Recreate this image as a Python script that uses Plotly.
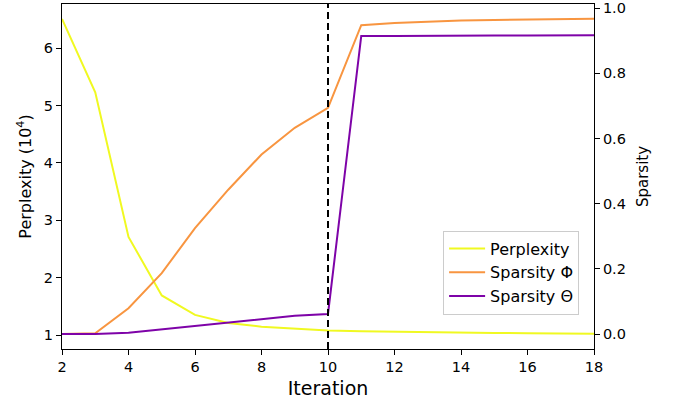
import plotly.graph_objects as go

iterations = [2, 3, 4, 5, 6, 7, 8, 9, 10, 11, 12, 13, 14, 15, 16, 17, 18]
perplexity = [6.51, 5.23, 2.71, 1.69, 1.35, 1.21, 1.145, 1.11, 1.08, 1.065, 1.055, 1.048, 1.042, 1.037, 1.032, 1.027, 1.022]
sparsity_phi = [0.0, 0.002, 0.079, 0.187, 0.325, 0.443, 0.551, 0.633, 0.694, 0.948, 0.955, 0.959, 0.962, 0.964, 0.966, 0.967, 0.968]
sparsity_theta = [0.0, 0.0, 0.004, 0.014, 0.026, 0.036, 0.046, 0.056, 0.0615, 0.915, 0.915, 0.916, 0.916, 0.916, 0.916, 0.917, 0.917]
split_iteration = 10
x_ticks = [2, 4, 6, 8, 10, 12, 14, 16, 18]
y1_ticks = [1, 2, 3, 4, 5, 6]
y2_ticks = [0.0, 0.2, 0.4, 0.6, 0.8, 1.0]

FONT = "DejaVu Sans"
c_perp = "#f0f921"
c_phi = "#f89540"
c_theta = "#7e03a8"

fig = go.Figure()
fig.add_trace(go.Scatter(x=iterations, y=perplexity, mode="lines", name="Perplexity",
                         line=dict(color=c_perp, width=2), yaxis="y"))
fig.add_trace(go.Scatter(x=iterations, y=sparsity_phi, mode="lines", name="Sparsity Φ",
                         line=dict(color=c_phi, width=2), yaxis="y2"))
fig.add_trace(go.Scatter(x=iterations, y=sparsity_theta, mode="lines", name="Sparsity Θ",
                         line=dict(color=c_theta, width=2), yaxis="y2"))

fig.add_shape(type="line", xref="x", yref="paper", x0=split_iteration, x1=split_iteration,
              y0=0, y1=1, line=dict(color="black", width=2, dash="7px,4px"), layer="above")

axis_common = dict(showgrid=False, zeroline=False, showline=True, linecolor="black", linewidth=1,
                   ticks="outside", ticklen=5, tickwidth=1, tickcolor="black", automargin=False,
                   tickfont=dict(family=FONT, size=14.5, color="black"))

fig.update_layout(
    width=676, height=404,
    margin=dict(l=62, r=82, t=4, b=55),
    plot_bgcolor="white", paper_bgcolor="white",
    font=dict(family=FONT, color="black"),
    xaxis=dict(range=[2, 18], tickvals=x_ticks, mirror=True,
               title=dict(text="Iteration", font=dict(family=FONT, size=19), standoff=7),
               **axis_common),
    yaxis=dict(range=[0.756, 6.77], tickvals=y1_ticks,
               title=dict(text="Perplexity (10<sup>4</sup>)", font=dict(family=FONT, size=16), standoff=8),
               **axis_common),
    yaxis2=dict(range=[-0.046, 1.013], tickvals=y2_ticks, ticktext=[f"{v:.1f}" for v in y2_ticks],
                overlaying="y", side="right",
                title=dict(text="Sparsity", font=dict(family=FONT, size=15), standoff=12),
                **axis_common),
    legend=dict(x=0.972, y=0.1, xanchor="right", yanchor="bottom", itemwidth=36,
                bgcolor="rgba(255,255,255,0.8)", bordercolor="#cccccc", borderwidth=1,
                font=dict(family=FONT, size=16, color="black"), tracegroupgap=0),
    showlegend=True,
)

fig.write_html("out.html", config={"displayModeBar": False},
               post_script="document.body.style.margin='0';document.body.style.overflow='hidden';")
